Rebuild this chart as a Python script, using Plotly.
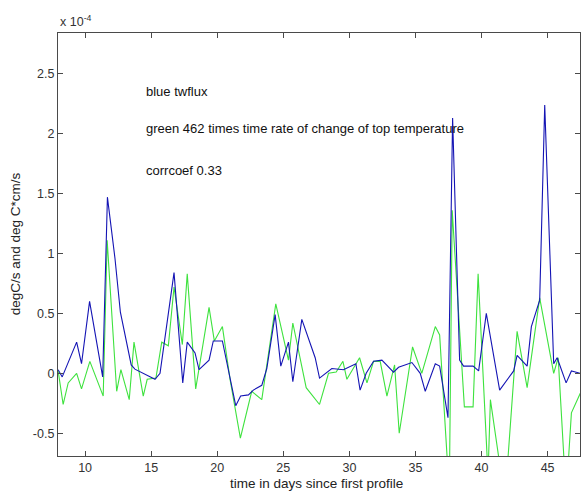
import plotly.graph_objects as go

# Time in days since first profile, and values in units of 1e-4
blue_days = [7.96, 8.27, 9.36, 9.73, 10.34, 11.33, 11.69, 12.26, 12.67, 13.49, 13.77,
             15.29, 15.67, 16.73, 17.39, 17.73, 18.32, 18.62, 19.38, 19.70, 20.39,
             21.40, 21.77, 22.36, 22.73, 23.37, 23.75, 24.38, 24.81, 25.39, 25.72,
             26.40, 27.41, 27.74, 28.67, 29.55, 30.49, 30.81, 31.27, 31.83, 32.46,
             33.34, 33.72, 34.73, 35.36, 35.74, 36.50, 36.83, 37.46, 37.81, 38.34,
             38.64, 39.36, 39.78, 40.36, 41.37, 42.43, 42.69, 43.45, 43.77, 44.40,
             44.78, 45.46, 45.72, 46.40, 46.80, 47.48]
blue_twflux = [0.03, -0.03, 0.26, 0.08, 0.60, -0.03, 1.47, 0.96, 0.51, 0.07, 0.035,
               -0.05, 0.0, 0.84, -0.08, 0.26, 0.17, 0.03, 0.11, 0.27, 0.27,
               -0.27, -0.19, -0.18, -0.14, -0.10, 0.04, 0.49, 0.06, 0.26, -0.07,
               0.45, 0.13, -0.04, 0.04, 0.03, 0.08, -0.14, 0.0, 0.10, 0.11,
               0.01, 0.05, 0.09, 0.0, -0.15, 0.08, 0.06, -0.37, 2.13, 0.11,
               0.06, 0.06, 0.02, 0.50, -0.14, 0.02, 0.15, 0.06, 0.39, 0.61,
               2.24, 0.08, 0.13, -0.08, 0.02, 0.0]

green_days = [7.96, 8.34, 8.72, 9.36, 9.73, 10.36, 11.37, 11.67, 12.39, 12.71, 13.34,
              13.70, 14.40, 14.70, 15.36, 15.80, 16.30, 16.73, 17.36, 17.73, 18.37,
              19.38, 19.78, 20.39, 20.97, 21.75, 22.61, 23.37, 24.43, 25.39, 25.72,
              26.73, 27.74, 28.42, 29.00, 29.51, 29.81, 30.77, 31.33, 31.83, 32.33,
              32.84, 33.42, 33.77, 34.78, 35.48, 36.50, 36.83, 37.56, 37.78, 38.70,
              39.36, 39.74, 40.49, 40.67, 41.77, 42.69, 43.45, 44.40, 45.46, 45.80,
              46.40, 46.80, 47.48]
green_dTdt = [0.02, -0.26, -0.08, 0.0, -0.13, 0.10, -0.19, 1.11, -0.15, 0.03, -0.22,
              0.26, -0.19, -0.05, -0.04, 0.26, 0.23, 0.72, 0.24, 0.83, -0.13,
              0.55, 0.27, 0.39, -0.05, -0.54, -0.15, -0.22, 0.58, 0.11, 0.42,
              -0.12, -0.26, 0.0, 0.01, 0.10, -0.05, 0.13, -0.08, 0.10, 0.10,
              -0.19, 0.07, -0.50, 0.22, 0.0, 0.39, 0.32, -1.0, 1.36, -0.28,
              -0.28, 0.83, -0.85, -0.22, -1.06, 0.35, -0.12, 0.63, 0.0, 0.13,
              -1.03, -0.33, -0.165]

x_ticks = [10, 15, 20, 25, 30, 35, 40, 45]
y_ticks = [-0.5, 0, 0.5, 1, 1.5, 2, 2.5]
y_tick_labels = ["-0.5", "0", "0.5", "1", "1.5", "2", "2.5"]

notes = ["blue twflux",
         "green 462 times time rate of change of top temperature",
         "corrcoef 0.33"]
note_y = [2.35, 2.04, 1.69]
note_x = 14.48

FONT = "Liberation Sans, Arial, sans-serif"
AX = "#4a4a4a"

fig = go.Figure()
fig.add_trace(go.Scatter(x=green_days, y=green_dTdt, mode="lines",
                         line=dict(color="#3ee23e", width=1.1), showlegend=False))
fig.add_trace(go.Scatter(x=blue_days, y=blue_twflux, mode="lines",
                         line=dict(color="#1414b4", width=1.1), showlegend=False))

for t, yv in zip(notes, note_y):
    fig.add_annotation(x=note_x, y=yv, xref="x", yref="y", text=t, showarrow=False,
                       xanchor="left", yanchor="middle",
                       font=dict(family=FONT, size=13, color="#111111"))

fig.add_annotation(x=0, y=1.028, xref="paper", yref="paper",
                   text="x 10<sup>-4</sup>", showarrow=False,
                   xanchor="left", yanchor="middle",
                   font=dict(family=FONT, size=12.5, color="#333333"))
fig.add_annotation(x=0.496, y=-0.066, xref="paper", yref="paper",
                   text="time in days since first profile", showarrow=False,
                   xanchor="center", yanchor="middle",
                   font=dict(family=FONT, size=13.5, color="#222222"))
fig.add_annotation(x=-0.082, y=0.501, xref="paper", yref="paper",
                   text="degC/s and deg C*cm/s", showarrow=False, textangle=-90,
                   xanchor="center", yanchor="middle",
                   font=dict(family=FONT, size=13.5, color="#222222"))

fig.update_xaxes(range=[7.95, 47.45], tickvals=x_ticks, ticks="inside", ticklen=5,
                 tickcolor=AX, showline=True, linecolor=AX, linewidth=1.3,
                 mirror="ticks", showgrid=False, zeroline=False,
                 tickfont=dict(family=FONT, size=12.5, color="#333333"))
fig.update_yaxes(range=[-0.69, 2.84], tickvals=y_ticks, ticktext=y_tick_labels,
                 ticks="inside", ticklen=5, tickcolor=AX, showline=True,
                 linecolor=AX, linewidth=1.3, mirror="ticks", showgrid=False,
                 zeroline=False,
                 tickfont=dict(family=FONT, size=12.5, color="#333333"))

fig.update_layout(width=581, height=493, margin=dict(l=58, r=1, t=33, b=37),
                  paper_bgcolor="white", plot_bgcolor="white")

fig.write_html("out.html")
